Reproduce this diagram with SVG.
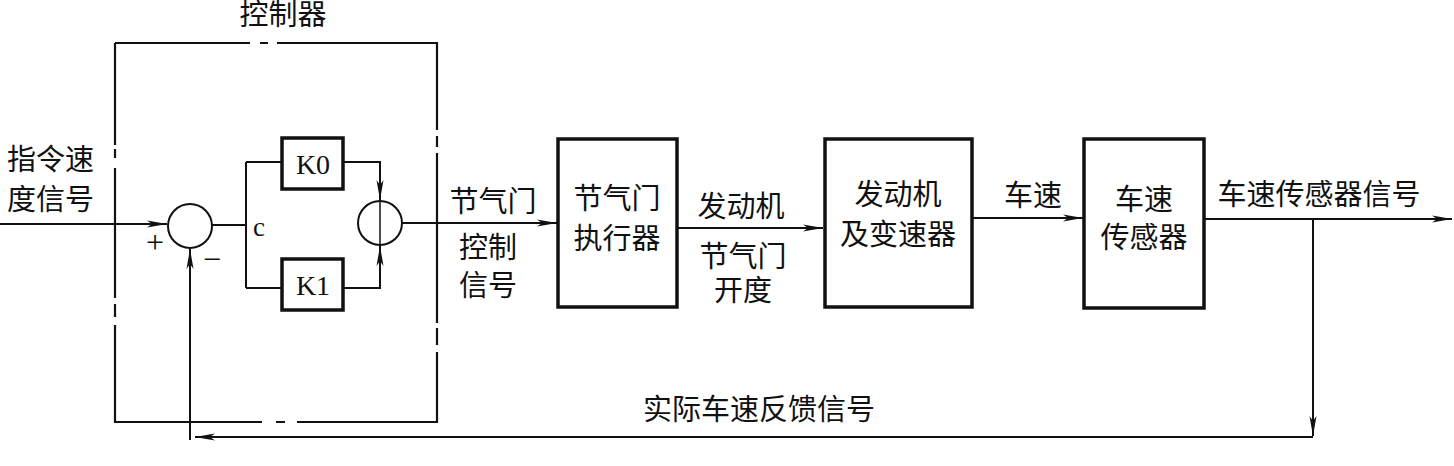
<svg xmlns="http://www.w3.org/2000/svg" width="1454" height="466" viewBox="0 0 1454 466">
<style>
.t{font-family:"Liberation Serif","Noto Sans CJK SC",serif;font-size:29px;fill:#111;}
.k{font-family:"Liberation Serif",serif;font-size:28px;fill:#111;}
.c{text-anchor:middle;}
.ln{stroke:#111;stroke-width:2;fill:none;}
.thin{stroke:#111;stroke-width:1.5;fill:none;}
.bx{stroke:#111;stroke-width:3.5;fill:#fff;}
.kb{stroke:#111;stroke-width:3.5;fill:#fff;}
.cir{stroke:#111;stroke-width:2;fill:#fff;}
.dash{stroke:#111;stroke-width:2.2;fill:none;}
</style>
<defs>
<marker id="ar" markerUnits="userSpaceOnUse" markerWidth="22" markerHeight="10" refX="20" refY="5" orient="auto">
<path d="M0,1.5 L20,5 L0,8.5 L5,5 z" fill="#111"/>
</marker>
</defs>
<rect width="1454" height="466" fill="#fff"/>

<g id="controller">
<path class="dash" d="M115,43 H250 M260,43 H268 M277,43 H437 V130 M437,136 V147 M437,153 V323 M437,328 V345 M437,352 V422 H297 M285,422 H276 M262,422 H115 V325 M115,317 V304 M115,298 V168 M115,158 V149 M115,145 V43"/>
<text class="t c" x="283" y="25">控制器</text>
</g>

<g id="connectors">
<path class="ln" d="M0,224 H167" marker-end="url(#ar)"/>
<path class="ln" d="M212,225 H246 M246,162 V288 M246,162 H282 M246,288 H282"/>
<path class="ln" d="M343,162 H380 V200" marker-end="url(#ar)"/>
<path class="ln" d="M343,288 H380 V246" marker-end="url(#ar)"/>
<path class="ln" d="M402,223 H557" marker-end="url(#ar)"/>
<path class="ln" d="M677,228 H823" marker-end="url(#ar)"/>
<path class="ln" d="M972,218 H1083" marker-end="url(#ar)"/>
<path class="ln" d="M1204,219 H1452" marker-end="url(#ar)"/>
<path class="ln" d="M1313,219 V436" marker-end="url(#ar)"/>
<path class="ln" d="M1313,437 H195" marker-end="url(#ar)"/>
<path class="ln" d="M190,440 V249" marker-end="url(#ar)"/>
</g>

<g id="sum1">
<circle class="cir" cx="190" cy="226" r="22"/>
<text class="k" x="146" y="253" style="font-size:32px">+</text>
<text class="k" x="203" y="270" style="font-size:32px">−</text>
</g>
<text class="k" x="253" y="236" style="font-size:27px">c</text>

<g id="k0">
<rect class="kb" x="282" y="138" width="61" height="51"/>
<text class="k c" x="313" y="174">K0</text>
</g>
<g id="k1">
<rect class="kb" x="282" y="259" width="61" height="51"/>
<text class="k c" x="313" y="295">K1</text>
</g>

<g id="sum2">
<circle class="cir" cx="380" cy="223" r="22"/>
<path class="thin" d="M380,200 V246"/>
</g>

<g id="labels">
<text class="t" x="7" y="170">指令速</text>
<text class="t" x="7" y="210">度信号</text>
<text class="t c" x="493" y="212">节气门</text>
<text class="t c" x="488" y="258">控制</text>
<text class="t c" x="488" y="296">信号</text>
<text class="t c" x="741" y="217">发动机</text>
<text class="t c" x="743" y="267">节气门</text>
<text class="t c" x="743" y="301">开度</text>
<text class="t c" x="1033" y="206">车速</text>
<text class="t c" x="1319" y="205">车速传感器信号</text>
<text class="t c" x="759" y="420">实际车速反馈信号</text>
</g>

<g id="actuator">
<rect class="bx" x="558" y="139" width="119" height="168"/>
<text class="t c" x="617" y="209">节气门</text>
<text class="t c" x="617" y="249">执行器</text>
</g>

<g id="engine">
<rect class="bx" x="825" y="139" width="147" height="168"/>
<text class="t c" x="898" y="205">发动机</text>
<text class="t c" x="898" y="245">及变速器</text>
</g>

<g id="sensor">
<rect class="bx" x="1084" y="139" width="120" height="169"/>
<text class="t c" x="1144" y="210">车速</text>
<text class="t c" x="1144" y="248">传感器</text>
</g>
</svg>
